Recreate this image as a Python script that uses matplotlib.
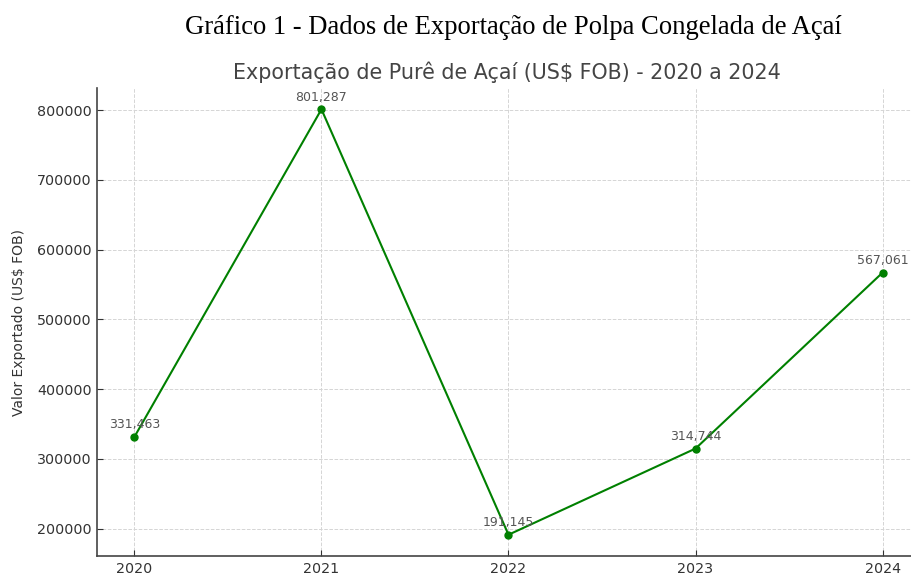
import matplotlib
matplotlib.use("Agg")
import matplotlib.pyplot as plt

anos = [2020, 2021, 2022, 2023, 2024]
valores = [331463, 801287, 191145, 314744, 567061]
rotulos = ["331,463", "801,287", "191,145", "314,744", "567,061"]

fig = plt.figure(figsize=(9.11, 5.75), dpi=100)
# axes run past the right edge, like the cropped original
ax = fig.add_axes([97 / 911, 1 - 556 / 575, 823 / 911, 468 / 575])

ax.plot(anos, valores, color="green", marker="o", linewidth=1.5, markersize=5)
for x, y, r in zip(anos, valores, rotulos):
    ax.annotate(r, (x, y), xytext=(0, 4), textcoords="offset points",
                ha="center", va="bottom", fontsize=9, color="#555555")

ax.set_xticks(anos)
ax.set_yticks([200000, 300000, 400000, 500000, 600000, 700000, 800000])
ax.tick_params(labelsize=10.3, colors="#333333", direction="in", length=4, pad=4)
ax.grid(True, linestyle="--", color="#d5d5d5", linewidth=0.7)
ax.spines["top"].set_visible(False)
ax.spines["right"].set_visible(False)
for s in ("left", "bottom"):
    ax.spines[s].set_color("#444444")
    ax.spines[s].set_linewidth(1.2)
ax.set_ylabel("Valor Exportado (US$ FOB)", fontsize=10, color="#333333", labelpad=8)

fig.text(0.563, 0.953, "Gráfico 1 - Dados de Exportação de Polpa Congelada de Açaí",
         ha="center", va="center", fontsize=19.2, family="Liberation Serif")
fig.text(0.557, 0.874, "Exportação de Purê de Açaí (US$ FOB) - 2020 a 2024",
         ha="center", va="center", fontsize=14.9, color="#444444")

fig.savefig("out.png", dpi=100)
